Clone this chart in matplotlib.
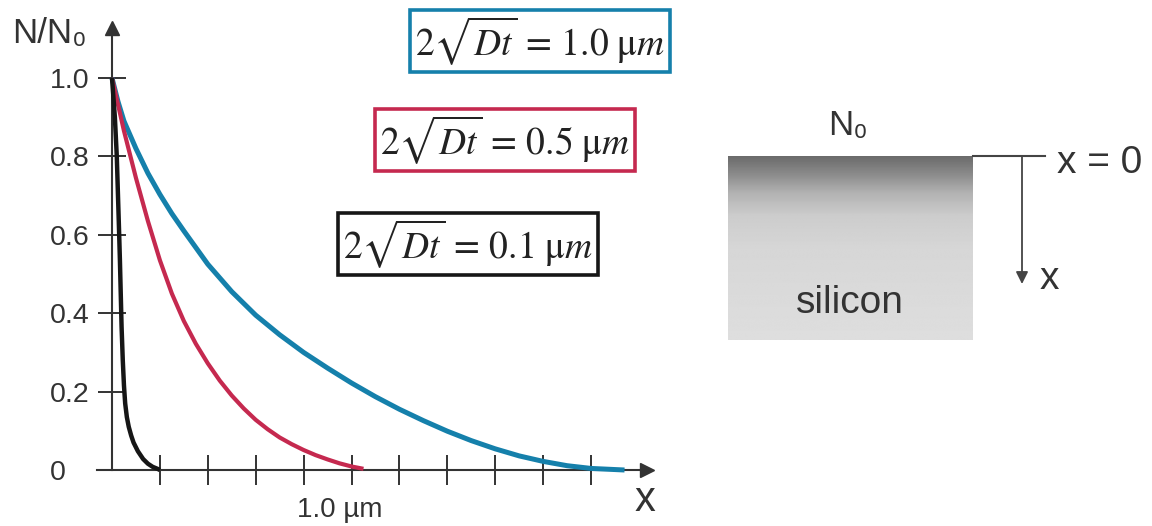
import numpy as np
import matplotlib
matplotlib.use("Agg")
import matplotlib.pyplot as plt

plt.rcParams['font.family'] = ['Liberation Sans', 'DejaVu Sans']
plt.rcParams['mathtext.fontset'] = 'stix'

# --- data (x in um, N/N0) ---
black_x = [0, 0.012, 0.02, 0.025, 0.03, 0.033, 0.04, 0.045, 0.05, 0.055, 0.062, 0.07, 0.08,
           0.09, 0.108, 0.13, 0.15, 0.17, 0.19, 0.20]
black_y = [1.0, 0.90, 0.80, 0.70, 0.60, 0.536, 0.365, 0.28, 0.215, 0.17, 0.135, 0.11, 0.088,
           0.07, 0.048, 0.028, 0.016, 0.008, 0.003, 0.0]

red_x = [0, 0.05, 0.1, 0.15, 0.2, 0.25, 0.3, 0.35, 0.4, 0.45, 0.5, 0.55, 0.6, 0.65, 0.7,
         0.75, 0.8, 0.85, 0.9, 0.95, 1.0, 1.05]
red_y = [1.0, 0.865, 0.745, 0.635, 0.535, 0.45, 0.38, 0.322, 0.272, 0.228, 0.19, 0.157, 0.128,
         0.104, 0.083, 0.066, 0.051, 0.038, 0.027, 0.017, 0.009, 0.003]

blue_x = [0, 0.025, 0.05, 0.1, 0.15, 0.2, 0.25, 0.3, 0.4, 0.5, 0.6, 0.7, 0.8, 0.9, 1.0, 1.1,
          1.2, 1.3, 1.4, 1.5, 1.6, 1.7, 1.8, 1.9, 2.0, 2.14]
blue_y = [1.0, 0.94, 0.89, 0.82, 0.757, 0.703, 0.654, 0.61, 0.525, 0.455, 0.395, 0.345, 0.30,
          0.26, 0.222, 0.187, 0.155, 0.126, 0.099, 0.075, 0.054, 0.036, 0.022, 0.011, 0.004, 0.0]

x_ticks = [0.2, 0.4, 0.6, 0.8, 1.0, 1.2, 1.4, 1.6, 1.8, 2.0]
y_ticks = [0, 0.2, 0.4, 0.6, 0.8, 1.0]
y_ticklabels = ['0', '0.2', '0.4', '0.6', '0.8', '1.0']

labels = [r'$2\sqrt{Dt}\, =\, 1.0\ \mathrm{\mu}m$',
          r'$2\sqrt{Dt}\, =\, 0.5\ \mathrm{\mu}m$',
          r'$2\sqrt{Dt}\, =\, 0.1\ \mathrm{\mu}m$']
colors = ['#1580ab', '#c5294f', '#161616']

W, H = 1152, 526
X0, PX_UM = 112, 239.5      # pixel of x=0, pixels per um
Y0, PX_N = 470, 392         # pixel of y=0, pixels per unit N/N0
axis_c = '#333333'

fig = plt.figure(figsize=(W / 100, H / 100), dpi=100)
ax = fig.add_axes([0, 0, 1, 1])
ax.patch.set_visible(False)
ax.set_xlim(-X0 / PX_UM, (W - X0) / PX_UM)
ax.set_ylim(-(H - Y0) / PX_N, Y0 / PX_N)

ax.plot(blue_x, blue_y, color=colors[0], lw=3.6, solid_capstyle='butt',
        solid_joinstyle='round', zorder=3)
ax.plot(red_x, red_y, color=colors[1], lw=3.0, solid_capstyle='butt',
        solid_joinstyle='round', zorder=3)
ax.plot(black_x, black_y, color=colors[2], lw=3.2, solid_capstyle='butt',
        solid_joinstyle='round', zorder=4)

# axes with arrows
for s in ['top', 'right']:
    ax.spines[s].set_visible(False)
ax.spines['left'].set_position(('data', 0))
ax.spines['bottom'].set_position(('data', 0))
ax.spines['left'].set_bounds(0, 1.128)
ax.spines['bottom'].set_bounds(-0.063, 2.234)
for s in ['left', 'bottom']:
    ax.spines[s].set_color(axis_c)
    ax.spines[s].set_linewidth(1.5)
ax.plot(2.234, 0, marker='>', ms=10, color=axis_c, clip_on=False)
ax.plot(0, 1.128, marker='^', ms=10, color=axis_c, clip_on=False)

ax.set_xticks(x_ticks)
ax.tick_params(axis='x', direction='inout', length=21, width=1.4, color=axis_c,
               labelbottom=False)
ax.set_yticks(y_ticks)
ax.set_yticklabels(y_ticklabels)
ax.tick_params(axis='y', direction='inout', length=20, width=1.4, color=axis_c,
               pad=34.6, labelsize=20.5, labelcolor=axis_c)
for lbl in ax.get_yticklabels():
    lbl.set_horizontalalignment('left')

ax.text(-0.418, 1.089, 'N/N\u2080', fontsize=25, color=axis_c, ha='left', va='baseline')
ax.text(0.952, -0.102, '1.0 \u00b5m', fontsize=20, color=axis_c, ha='center', va='center')
ax.text(2.226, -0.076, 'x', fontsize=30, color=axis_c, ha='center', va='center')

# overlay in pixel coordinates: formula boxes and silicon sketch
ov = fig.add_axes([0, 0, 1, 1])
ov.set_xlim(0, W)
ov.set_ylim(H, 0)
ov.axis('off')

box_pos = [(540, 41), (505, 140), (468, 244)]
for (bx, by), lab, c in zip(box_pos, labels, colors):
    ov.text(bx, by, lab, fontsize=27, color='#222222', ha='center', va='center',
            bbox=dict(boxstyle='square,pad=0.12', fc='white', ec=c, lw=2.6))

stops_pos = [0.0, 0.1, 0.2, 0.32, 0.5, 1.0]
stops_val = [0.42, 0.55, 0.70, 0.80, 0.84, 0.87]
grad = np.interp(np.linspace(0, 1, 200), stops_pos, stops_val)
ov.imshow(grad[:, None], cmap='gray', vmin=0, vmax=1, aspect='auto',
          extent=(728, 973, 340, 156), interpolation='bilinear')
ov.set_xlim(0, W)
ov.set_ylim(H, 0)

ov.plot([973, 1045], [156, 156], color='#444444', lw=1.5)
ov.annotate('', xy=(1022, 284), xytext=(1022, 156),
            arrowprops=dict(arrowstyle='-|>', color='#444444', lw=1.3,
                            mutation_scale=18, shrinkA=0, shrinkB=0))
ov.text(1057, 163, 'x = 0', fontsize=28, color=axis_c, ha='left', va='center')
ov.text(1049, 279, 'x', fontsize=28, color=axis_c, ha='center', va='center')
ov.text(850, 313, 'silicon', fontsize=28, color=axis_c, ha='center', va='baseline')
ov.text(848, 135, 'N\u2080', fontsize=25, color=axis_c, ha='center', va='baseline')

fig.savefig('out.png', dpi=100)
